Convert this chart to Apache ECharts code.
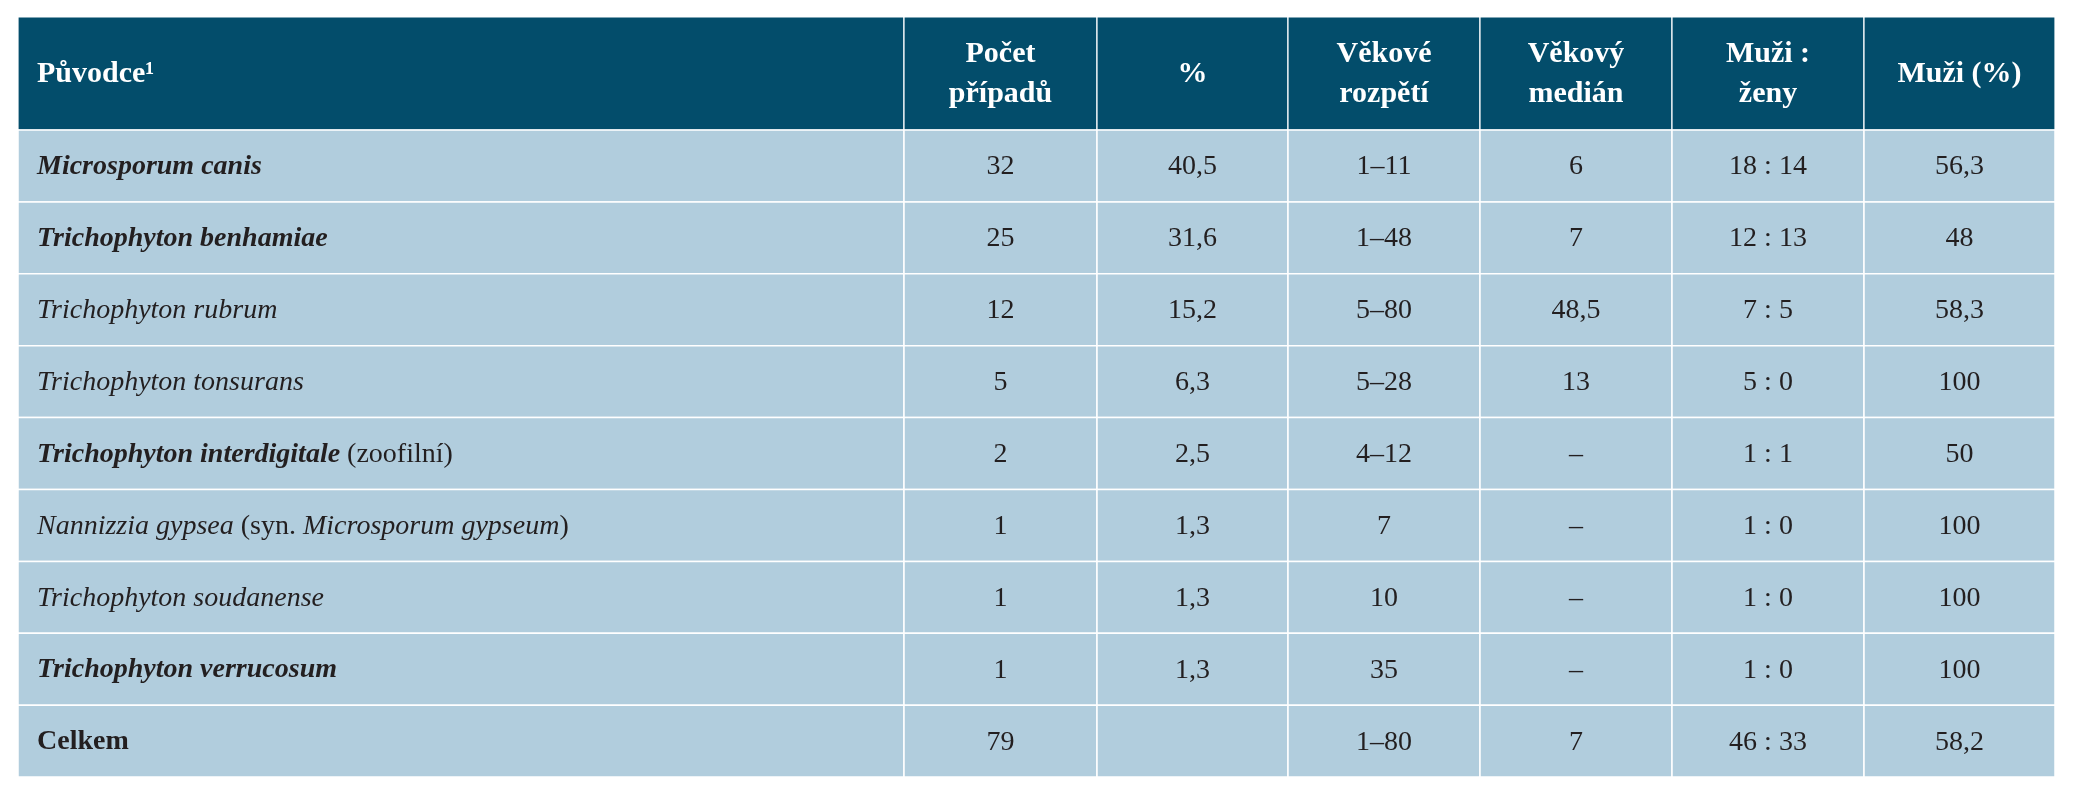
<!DOCTYPE html>
<html>
<head>
<meta charset="utf-8">
<script src="https://cdn.jsdelivr.net/npm/echarts@6/dist/echarts.min.js"></script>
<style>html,body{margin:0;background:#fff}#main{width:2074px;height:800px}</style>
</head>
<body>
<div id="main"></div>
<script>
// hlavicka tabulky
var headers = ['{h|Původce¹}', 'Počet\npřípadů', '%', 'Věkové\nrozpětí', 'Věkový\nmedián', 'Muži :\nženy', 'Muži (%)'];
// nazvy puvodcu (rich text: bi = tucna kurziva, i = kurziva, r = normalni, b = tucne)
var agents = [
	'{bi|Microsporum canis}',
	'{bi|Trichophyton benhamiae}',
	'{i|Trichophyton rubrum}',
	'{i|Trichophyton tonsurans}',
	'{bi|Trichophyton interdigitale}{r| (zoofilní)}',
	'{i|Nannizzia gypsea}{r| (syn. }{i|Microsporum gypseum}{r|)}',
	'{i|Trichophyton soudanense}',
	'{bi|Trichophyton verrucosum}',
	'{b|Celkem}'
];
var cases = ['32', '25', '12', '5', '2', '1', '1', '1', '79'];
var percent = ['40,5', '31,6', '15,2', '6,3', '2,5', '1,3', '1,3', '1,3', ''];
var ageRange = ['1–11', '1–48', '5–80', '5–28', '4–12', '7', '10', '35', '1–80'];
var ageMedian = ['6', '7', '48,5', '13', '–', '–', '–', '–', '7'];
var menWomen = ['18 : 14', '12 : 13', '7 : 5', '5 : 0', '1 : 1', '1 : 0', '1 : 0', '1 : 0', '46 : 33'];
var menPct = ['56,3', '48', '58,3', '100', '50', '100', '100', '100', '58,2'];

var colEdges = [0, 886, 1079, 1270, 1462, 1654, 1846, 2037];
var headH = 113, rowH = 71.9;
var columns = [agents, cases, percent, ageRange, ageMedian, menWomen, menPct];

var data = [];
for (var c = 0; c < columns.length; c++) {
	data.push([c, -1, headers[c]]);
	for (var r = 0; r < columns[c].length; r++) {
		data.push([c, r, columns[c][r]]);
	}
}

var FONT = '"Liberation Serif", "DejaVu Serif", serif';
var rich = {
	h: { fontFamily: FONT, fontWeight: 'bold', fontSize: 30, fill: '#fff' },
	bi: { fontFamily: FONT, fontWeight: 'bold', fontStyle: 'italic', fontSize: 28, fill: '#231f20' },
	i: { fontFamily: FONT, fontStyle: 'italic', fontSize: 28, fill: '#231f20' },
	b: { fontFamily: FONT, fontWeight: 'bold', fontSize: 28, fill: '#231f20' },
	r: { fontFamily: FONT, fontSize: 28, fill: '#231f20' }
};

function rowTop(r) { return r < 0 ? 0 : headH + r * rowH; }
function rowBottom(r) { return r < 0 ? headH : headH + (r + 1) * rowH; }

function renderItem(params, api) {
	var c = api.value(0), r = api.value(1);
	var txt = data[params.dataIndex][2];
	var p0 = api.coord([colEdges[c], rowTop(r)]);
	var p1 = api.coord([colEdges[c + 1], rowBottom(r)]);
	var head = r < 0;
	var x = c === 0 ? p0[0] + 19 : (p0[0] + p1[0]) / 2;
	return {
		type: 'group',
		children: [{
			type: 'rect',
			shape: { x: p0[0], y: p0[1], width: p1[0] - p0[0], height: p1[1] - p0[1] },
			style: { fill: head ? '#034d6b' : '#b1cddd', stroke: '#ffffff', lineWidth: head ? 1.2 : 1.5 }
		}, {
			type: 'text',
			style: {
				text: txt,
				x: x,
				y: (p0[1] + p1[1]) / 2 + 1,
				align: c === 0 ? 'left' : 'center',
				verticalAlign: 'middle',
				fontFamily: FONT,
				fontSize: head ? 30 : 28,
				fontWeight: head ? 'bold' : 'normal',
				lineHeight: 40,
				fill: head ? '#ffffff' : '#231f20',
				rich: rich
			}
		}]
	};
}

var chart = echarts.init(document.getElementById('main'));
chart.setOption({
	animation: false,
	grid: { left: 18, top: 17, width: 2037, height: 760 },
	xAxis: { type: 'value', min: 0, max: 2037, show: false },
	yAxis: { type: 'value', min: 0, max: 760, inverse: true, show: false },
	series: [{
		type: 'custom',
		renderItem: renderItem,
		data: data.map(function (d) { return [d[0], d[1]]; })
	}]
});
</script>
</body>
</html>
